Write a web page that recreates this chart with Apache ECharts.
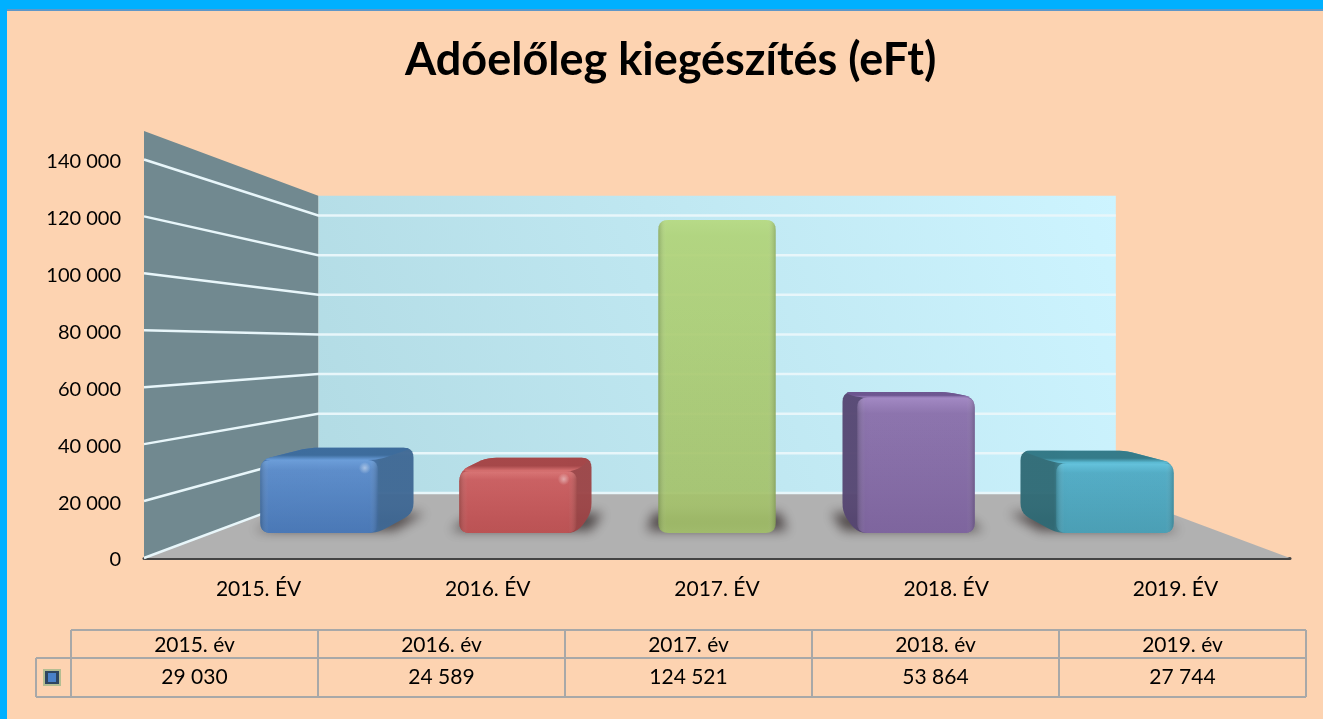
<!DOCTYPE html>
<html>
<head>
<meta charset="utf-8">
<title>Adóelőleg kiegészítés (eFt)</title>
<script src="https://cdn.jsdelivr.net/npm/echarts@6/dist/echarts.min.js"></script>
<style>
  html, body { margin: 0; padding: 0; background: #fdd3b1; overflow: hidden; }
  #mainChart { width: 1323px; height: 719px; }
</style>
</head>
<body>
<div id="mainChart"></div>
<script>
const titleText = 'Adóelőleg kiegészítés (eFt)'
const axisCategories = ['2015. ÉV', '2016. ÉV', '2017. ÉV', '2018. ÉV', '2019. ÉV']
const tableCategories = ['2015. év', '2016. év', '2017. év', '2018. év', '2019. év']
const values = [29030, 24589, 124521, 53864, 27744]
const tableValues = ['29 030', '24 589', '124 521', '53 864', '27 744']
const yTicks = [0, 20000, 40000, 60000, 80000, 100000, 120000, 140000]
const wallTop = 150000
const vanishValue = 75200

// [front light, front dark, top, side, edge highlight]
const barColors = [
  ['#5a8bca', '#4474b4', '#3d6c9c', '#3f6894', '#6a9edb'],
  ['#ca5d5f', '#b94d4f', '#a54749', '#9c4446', '#db7474'],
  ['#aed273', '#9fbd64', '#8fb057', '#7fa04f', '#b4d87a'],
  ['#8a71ac', '#7a609b', '#6d5690', '#564672', '#a388c5'],
  ['#4fabc5', '#459cb3', '#347a88', '#2f6a75', '#62c5e0']
]

const FONT = 'Lato'
const BACK_SCALE = 0.696
const BAR_FRONT = 0.883
const BAR_BACK = 0.79
const BAR_WIDTH = 0.58
const BAR_SPREAD = 0.983

// perspective: s = 1 is the front of the floor, BACK_SCALE the back wall
function projector(api, coordSys) {
  const vx = coordSys.x + coordSys.width / 2
  const vy = api.coord([0, vanishValue])[1]
  return (x, y, s) => [vx + (x - vx) * s, vy + (y - vy) * s]
}

function roundPoly(pts, r) {
  const out = []
  const n = pts.length
  for (let i = 0; i < n; i++) {
    const p = pts[i], a = pts[(i + n - 1) % n], b = pts[(i + 1) % n]
    const da = Math.hypot(a[0] - p[0], a[1] - p[1])
    const db = Math.hypot(b[0] - p[0], b[1] - p[1])
    const ra = Math.min(r, da / 2), rb = Math.min(r, db / 2)
    const s = [p[0] + (a[0] - p[0]) * ra / da, p[1] + (a[1] - p[1]) * ra / da]
    const e = [p[0] + (b[0] - p[0]) * rb / db, p[1] + (b[1] - p[1]) * rb / db]
    for (let t = 0; t <= 1.001; t += 0.2) {
      const u = 1 - t
      out.push([u * u * s[0] + 2 * u * t * p[0] + t * t * e[0], u * u * s[1] + 2 * u * t * p[1] + t * t * e[1]])
    }
  }
  return out
}

function poly(points, style) {
  return { type: 'polygon', shape: { points }, style }
}

function linear(x, y, x2, y2, from, to) {
  return new echarts.graphic.LinearGradient(x, y, x2, y2, [{ offset: 0, color: from }, { offset: 1, color: to }])
}

function renderScene(params, api) {
  const c = params.coordSys
  const p = projector(api, c)
  const x0 = c.x, x1 = c.x + c.width
  const y0 = api.coord([0, 0])[1]
  const yTop = api.coord([0, wallTop])[1]
  return {
    type: 'group',
    children: [
      poly([p(x0, yTop, BACK_SCALE), p(x1, yTop, BACK_SCALE), p(x1, y0, BACK_SCALE), p(x0, y0, BACK_SCALE)], {
        fill: linear(1, 0, 0, 1, '#cdf4ff', '#b2dbe4')
      }),
      poly([p(x0, yTop, 1), p(x0, yTop, BACK_SCALE), p(x0, y0, BACK_SCALE), p(x0, y0, 1)], {
        fill: '#718990'
      }),
      poly([p(x0, y0, 1), p(x0, y0, BACK_SCALE), p(x1, y0, BACK_SCALE), p(x1, y0, 1)], {
        fill: '#b1b1b1'
      })
    ]
  }
}

function renderGridLine(params, api) {
  const c = params.coordSys
  const p = projector(api, c)
  const y = api.coord([0, api.value(0)])[1]
  return {
    type: 'polyline',
    shape: { points: [p(c.x, y, 1), p(c.x, y, BACK_SCALE), p(c.x + c.width, y, BACK_SCALE)] },
    style: { stroke: '#e8f6fa', lineWidth: 2.5, fill: null }
  }
}

function renderBar(params, api) {
  const c = params.coordSys
  const p = projector(api, c)
  const idx = api.value(0)
  const top = api.coord([idx, api.value(1)])
  const y0 = api.coord([idx, 0])[1]
  const vx = c.x + c.width / 2
  const vy = api.coord([0, vanishValue])[1]
  const half = api.size([1, 0])[0] * BAR_WIDTH / 2
  const cx = vx + (top[0] - vx) * BAR_SPREAD
  const xl = cx - half, xr = cx + half, yt = top[1]
  const [light, dark, topColor, sideColor, edge] = barColors[idx]
  const OFF = 3000

  const children = []
  // blurred floor shadow: the shape itself sits off canvas, only its shadow lands here
  const shadow = [
    p(xl - 14, y0, BAR_FRONT - 0.012), p(xr + 14, y0, BAR_FRONT - 0.012),
    p(xr + 14, y0, BAR_BACK), p(xl - 14, y0, BAR_BACK)
  ].map(q => [q[0] - OFF, q[1]])
  children.push(poly(shadow, {
    fill: '#000', shadowBlur: 12, shadowColor: 'rgba(60,52,52,0.85)', shadowOffsetX: OFF
  }))

  const ftl = p(xl, yt, BAR_FRONT), ftr = p(xr, yt, BAR_FRONT)
  const fbl = p(xl, y0, BAR_FRONT), fbr = p(xr, y0, BAR_FRONT)
  const btl = p(xl, yt, BAR_BACK), btr = p(xr, yt, BAR_BACK)
  const bbl = p(xl, y0, BAR_BACK), bbr = p(xr, y0, BAR_BACK)

  // body outline first so rounded corners never leave a gap between faces
  let outline = null
  if (xr < vx - 1) {
    outline = yt > vy ? [ftl, btl, btr, bbr, fbr, fbl] : [btl, btr, bbr, fbr, fbl, ftl]
  } else if (xl > vx + 1) {
    outline = yt > vy ? [btl, btr, ftr, fbr, fbl, bbl] : [btl, ftr, fbr, fbl, bbl]
  }
  if (outline) {
    const sideFill = xr < vx - 1
      ? new echarts.graphic.LinearGradient(fbr[0] - 12, 0, bbr[0], 0, [{ offset: 0, color: dark }, { offset: 0.3, color: sideColor }, { offset: 1, color: sideColor }], true)
      : new echarts.graphic.LinearGradient(bbl[0], 0, fbl[0] + 12, 0, [{ offset: 0, color: sideColor }, { offset: 0.7, color: sideColor }, { offset: 1, color: dark }], true)
    children.push(poly(roundPoly(outline, 10), { fill: sideFill, opacity: 0.96 }))
  }
  if (yt > vy) {
    children.push(poly(roundPoly([ftl, btl, btr, ftr], 10), {
      fill: new echarts.graphic.LinearGradient(0, 0, 0, 1, [
        { offset: 0, color: topColor },
        { offset: 0.6, color: topColor },
        { offset: 1, color: edge }
      ]),
      opacity: 0.96
    }))
  }

  // rounded front face, a little see-through like the original
  const front = roundPoly([ftl, ftr, fbr, fbl], 10)
  children.push(poly(front, {
    fill: new echarts.graphic.LinearGradient(0, ftl[1], 0, fbl[1], [
      { offset: 0, color: edge },
      { offset: Math.min(0.14, 16 / (fbl[1] - ftl[1])), color: light },
      { offset: 1, color: dark }
    ], true),
    opacity: 0.92
  }))
  // soft bevel along the left and right edge
  children.push(poly(front, {
    fill: new echarts.graphic.LinearGradient(ftl[0], 0, ftr[0], 0, [
      { offset: 0, color: 'rgba(30,40,30,0.22)' },
      { offset: 0.07, color: 'rgba(255,255,255,0.03)' },
      { offset: 0.93, color: 'rgba(255,255,255,0.03)' },
      { offset: 1, color: 'rgba(30,40,30,0.2)' }
    ], true)
  }))
  // specular spot on the low bars of the left side
  if (xr < vx - 1) {
    children.push({
      type: 'circle',
      shape: { cx: ftr[0] - 13, cy: ftr[1] + 8, r: 6 },
      style: { fill: new echarts.graphic.RadialGradient(0.5, 0.5, 0.5, [{ offset: 0, color: 'rgba(255,255,255,0.45)' }, { offset: 1, color: 'rgba(255,255,255,0)' }]) }
    })
  }
  return { type: 'group', children }
}

function tableGraphics() {
  const colX = [71, 318, 565, 812, 1059, 1306]
  const rowY = [630, 658, 697]
  const legendX = 36
  const lineColor = '#a8a8a8'
  const els = []
  const line = (x1, y1, x2, y2) => els.push({
    type: 'line',
    shape: { x1, y1, x2, y2 },
    style: { stroke: lineColor, lineWidth: 2 }
  })
  colX.forEach(x => line(x, rowY[0], x, rowY[2]))
  rowY.forEach((y, i) => line(i === 0 ? colX[0] : legendX, y, colX[5], y))
  line(legendX, rowY[1], legendX, rowY[2])
  const text = (t, x, y) => els.push({
    type: 'text',
    style: { text: t, x, y, align: 'center', verticalAlign: 'middle', font: '21px ' + FONT, fill: '#000' }
  })
  tableCategories.forEach((t, i) => text(t, (colX[i] + colX[i + 1]) / 2, (rowY[0] + rowY[1]) / 2 + 1))
  tableValues.forEach((t, i) => text(t, (colX[i] + colX[i + 1]) / 2, (rowY[1] + rowY[2]) / 2))
  // legend key
  els.push({ type: 'rect', shape: { x: 43, y: 669, width: 18, height: 17 }, style: { fill: '#b4bd92' } })
  els.push({ type: 'rect', shape: { x: 45, y: 671, width: 14, height: 13 }, style: { fill: '#2f4560' } })
  els.push({ type: 'rect', shape: { x: 48, y: 673, width: 8, height: 9 }, style: { fill: '#4a80c8' } })
  return els
}

const chartDom = document.getElementById('mainChart')
const chart = echarts.init(chartDom)

chart.setOption({
  animation: false,
  backgroundColor: '#fdd3b1',
  title: {
    text: titleText,
    left: 400,
    top: 33,
    textStyle: { fontFamily: FONT, fontSize: 45, fontWeight: 'bold', color: '#000' }
  },
  graphic: [
    { type: 'rect', shape: { x: 0, y: 0, width: 1323, height: 9 }, style: { fill: '#00b0ff' } },
    { type: 'rect', shape: { x: 0, y: 9, width: 1323, height: 2 }, style: { fill: '#5f97c8' } },
    { type: 'rect', shape: { x: 0, y: 0, width: 7, height: 719 }, style: { fill: '#00b0ff' } }
  ].concat(tableGraphics()),
  grid: { left: 144, right: 33, top: 131, height: 427 },
  xAxis: {
    type: 'category',
    data: axisCategories,
    axisTick: { show: false },
    axisLine: { lineStyle: { color: '#444', width: 3 } },
    axisLabel: { fontFamily: FONT, fontSize: 21, color: '#000', margin: 21 }
  },
  yAxis: {
    type: 'value',
    min: 0,
    max: wallTop,
    axisLine: { show: false },
    axisTick: { show: false },
    splitLine: { show: false },
    axisLabel: {
      customValues: yTicks,
      margin: 23,
      formatter: v => '{t|' + String(v).replace(/\B(?=(\d{3})+$)/g, ' ') + '}',
      rich: {
        t: { fontFamily: FONT, fontSize: 20, color: '#000', padding: [4, 0, 0, 0] }
      }
    }
  },
  series: [
    { type: 'custom', silent: true, renderItem: renderScene, data: [[0]], z: 1, clip: false },
    { type: 'custom', silent: true, renderItem: renderGridLine, data: yTicks.map(v => [v]), encode: { y: 0 }, z: 2, clip: false },
    { type: 'custom', renderItem: renderBar, data: values.map((v, i) => [i, v]), encode: { x: 0, y: 1 }, z: 3, clip: false }
  ]
})

window.addEventListener('resize', () => chart.resize())
</script>
</body>
</html>
